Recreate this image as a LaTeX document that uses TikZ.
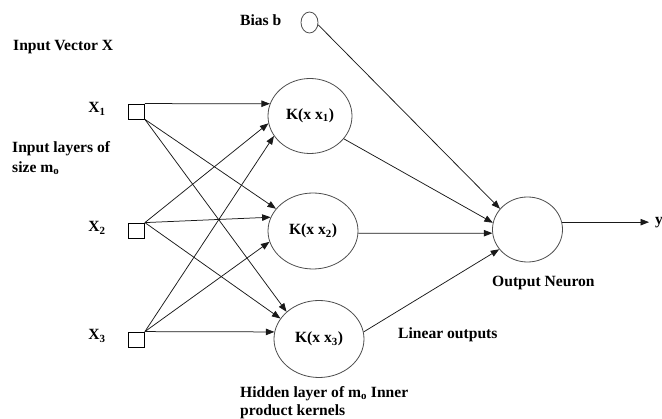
\documentclass[tikz,border=0pt]{standalone}
\usepackage{fontspec}
\setmainfont{Liberation Serif}
\usetikzlibrary{shapes.geometric,arrows.meta}
\begin{document}
\begin{tikzpicture}[x=1pt,y=-1pt,
  every node/.style={font=\fontsize{15.6}{17}\selectfont\bfseries},
  unit/.style={draw=black!70, line width=0.8pt, ellipse, inner sep=0pt},
  inbox/.style={draw=black, line width=0.8pt, rectangle, minimum width=16pt, minimum height=15pt, inner sep=0pt},
  lbl/.style={anchor=west, inner sep=0pt, align=left},
  arr/.style={draw=black!90, line width=0.75pt, -{Triangle[length=8.5pt,width=6.5pt]}}]
\useasboundingbox (0,0) rectangle (662,419);

% input layer
\node[inbox] (x1) at (136.5,111.5) {};
\node[inbox] (x2) at (136.5,230.5) {};
\node[inbox] (x3) at (136.5,339.5) {};
\node[inner sep=0pt] (lx1) at (97,109) {X\textsubscript{1}};
\node[inner sep=0pt] (lx2) at (97,228) {X\textsubscript{2}};
\node[inner sep=0pt] (lx3) at (97,336) {X\textsubscript{3}};

% hidden layer of kernels
\node[unit, minimum width=84pt, minimum height=75pt] (k1) at (310,116) {K(x x\textsubscript{1})};
\node[unit, minimum width=90pt, minimum height=76pt] (k2) at (313,231) {K(x x\textsubscript{2})};
\node[unit, minimum width=90pt, minimum height=77pt] (k3) at (319,339) {K(x x\textsubscript{3})};

% bias and output
\node[unit, minimum width=17pt, minimum height=21pt] (bias) at (309.5,22.5) {};
\node[unit, minimum width=70pt, minimum height=65pt] (out) at (527.5,229.5) {};
\coordinate (yend) at (649,223);

% text labels
\node[lbl] (tbias) at (240,20) {Bias b};
\node[lbl] (tvec) at (13,47) {Input Vector X};
\node[lbl, font=\fontsize{15.6}{20}\selectfont\bfseries] (tin) at (12,158) {Input layers of\\size m\textsubscript{o}};
\node[lbl, font=\fontsize{15.6}{18}\selectfont\bfseries] (thid) at (240,403) {Hidden layer of m\textsubscript{o} Inner\\product kernels};
\node[lbl] (tlin) at (398,335) {Linear outputs};
\node[lbl] (tout) at (492,283) {Output Neuron};

% input to hidden connections
\draw[arr] (x1.north east) -- (k1.163);
\draw[arr] (x1.south east) -- (k2.149);
\draw[arr] (x1.south east) -- (k3.140);
\draw[arr] (x2.north east) -- (k1.190);
\draw[arr] (x2.north east) -- (k2.162);
\draw[arr] (x2.north east) -- (k3.152);
\draw[arr] (x3.north east) -- (k1.209);
\draw[arr] (x3.north east) -- (k2.194);
\draw[arr] (x3.north east) -- (k3.171);

% hidden to output connections
\draw[arr] (bias.-15) -- (out.143);
\draw[arr] (k1.-34) -- (out.169);
\draw[arr] (k2.-3) -- (out.186);
\draw[arr] (k3.9) -- (out.215);
\draw[arr] (out.12) -- (out.12 -| yend);
\node[anchor=west, inner sep=0pt] (ty) at ([xshift=6pt]yend) {y};
\end{tikzpicture}
\end{document}
